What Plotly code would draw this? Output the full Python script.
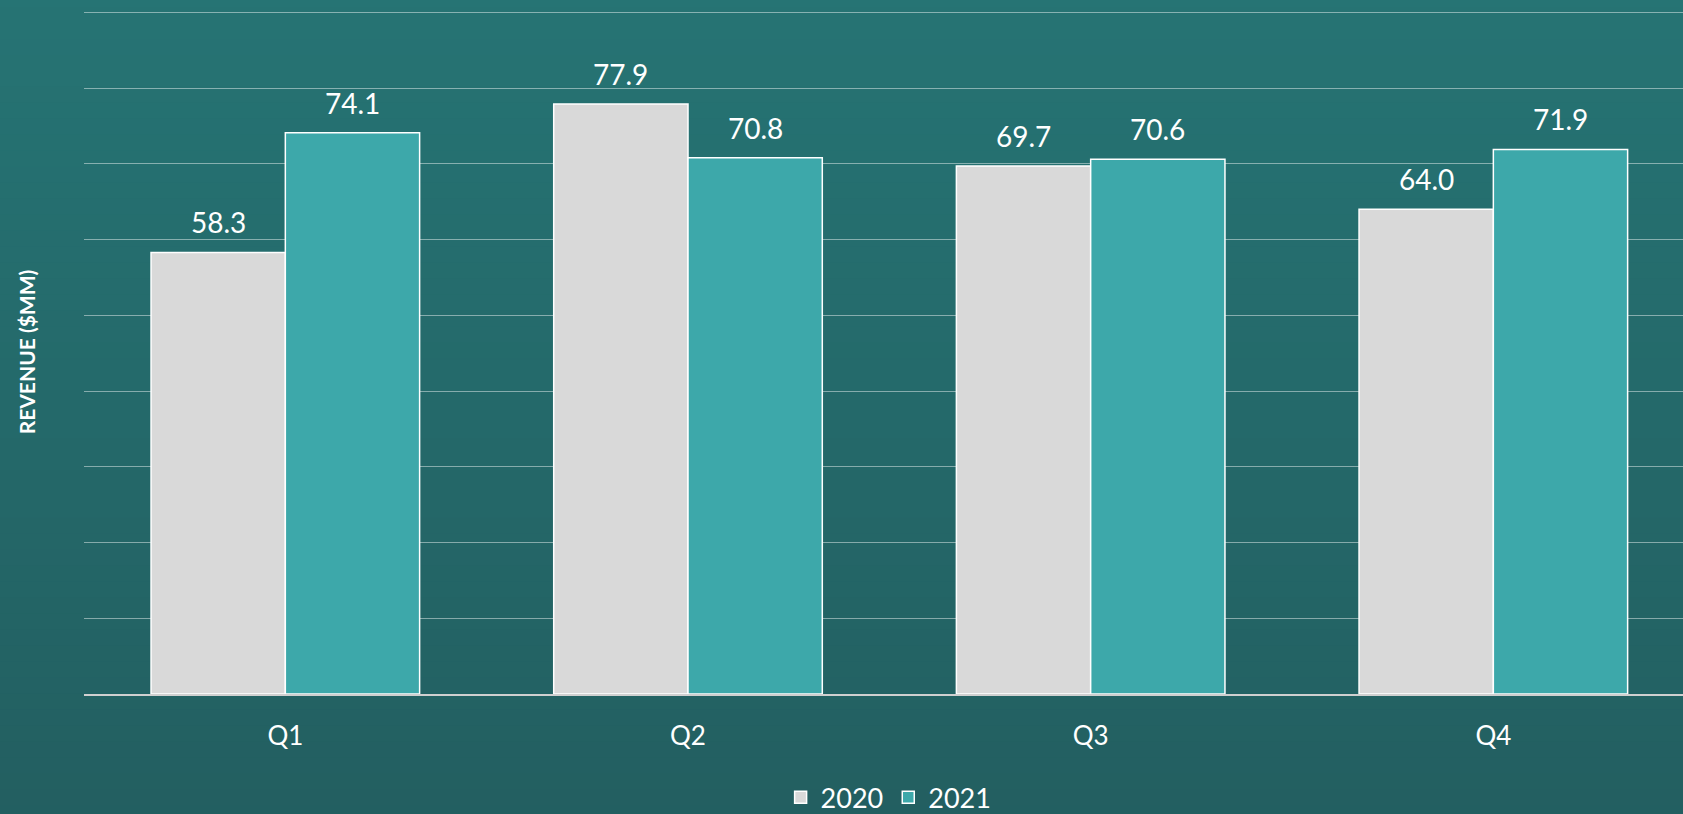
import plotly.graph_objects as go

quarters = ["Q1", "Q2", "Q3", "Q4"]
rev_2020 = [58.3, 77.9, 69.7, 64.0]
rev_2021 = [74.1, 70.8, 70.6, 71.9]
series_names = ["2020", "2021"]
series_colors = ["#D9D9D9", "#3DA8AA"]
y_title = "REVENUE ($MM)"

FONT = "Lato, Carlito, Calibri, sans-serif"

fig = go.Figure()
for name, vals, col in zip(series_names, [rev_2020, rev_2021], series_colors):
    fig.add_trace(go.Bar(
        x=quarters, y=vals, name=name,
        marker=dict(color=col, line=dict(color="#FFFFFF", width=1.5)),
        hoverinfo="x+y+name",
    ))

# data labels above bars
bargap = 0.333
half = (1 - bargap) / 4
for si, vals in enumerate([rev_2020, rev_2021]):
    off = -half if si == 0 else half
    for i, v in enumerate(vals):
        fig.add_annotation(
            x=i + off, y=v, xref="x", yref="y",
            text=f"{v:.1f}", showarrow=False,
            yanchor="bottom", yshift=11,
            font=dict(family=FONT, size=28, color="#FFFFFF"),
        )

# background vertical gradient
top = (38, 116, 116)
bot = (34, 92, 94)
n = 60
shapes = []
for k in range(n):
    t = k / (n - 1)
    c = tuple(round(top[j] + (bot[j] - top[j]) * t) for j in range(3))
    shapes.append(dict(
        type="rect", xref="paper", yref="paper", layer="below",
        x0=-0.2, x1=1.2,
        y0=1.05 - (k + 1) * (1.4 / n) - 0.01, y1=1.05 - k * (1.4 / n) + 0.001,
        line=dict(width=0), fillcolor=f"rgb{c}",
    ))

fig.update_layout(
    width=1683, height=814,
    margin=dict(l=84, r=0, t=10, b=120, autoexpand=False),
    paper_bgcolor="rgb(36,104,105)",
    plot_bgcolor="rgba(0,0,0,0)",
    barmode="group", bargap=bargap, bargroupgap=0,
    shapes=shapes,
    font=dict(family=FONT, color="#FFFFFF"),
    showlegend=True,
    legend=dict(
        orientation="h", xref="container", yref="container",
        x=0.528, xanchor="center", y=0.02, yanchor="middle",
        font=dict(family=FONT, size=27, color="#FFFFFF"),
        bgcolor="rgba(0,0,0,0)", itemwidth=30, tracegroupgap=0,
    ),
    xaxis=dict(
        range=[-0.5, 3.471], showgrid=False, showline=True,
        linecolor="#D0D0D0", linewidth=1.5, ticks="",
        tickfont=dict(family=FONT, size=26, color="#FFFFFF"),
        ticklabelstandoff=18, fixedrange=True, automargin=False,
    ),
    yaxis=dict(
        range=[0, 90.3], tick0=0, dtick=10, showticklabels=False, zeroline=False,
        showgrid=True, gridcolor="rgba(255,255,255,0.45)", gridwidth=1,
        title=dict(text=f"<b>{y_title}</b>", standoff=41,
                   font=dict(family=FONT, size=21, color="#FFFFFF")),
        fixedrange=True, automargin=False,
    ),
)

fig.write_html(
    "out.html",
    config={"displayModeBar": False},
    post_script="document.body.style.margin='0';document.body.style.overflow='hidden';",
)
